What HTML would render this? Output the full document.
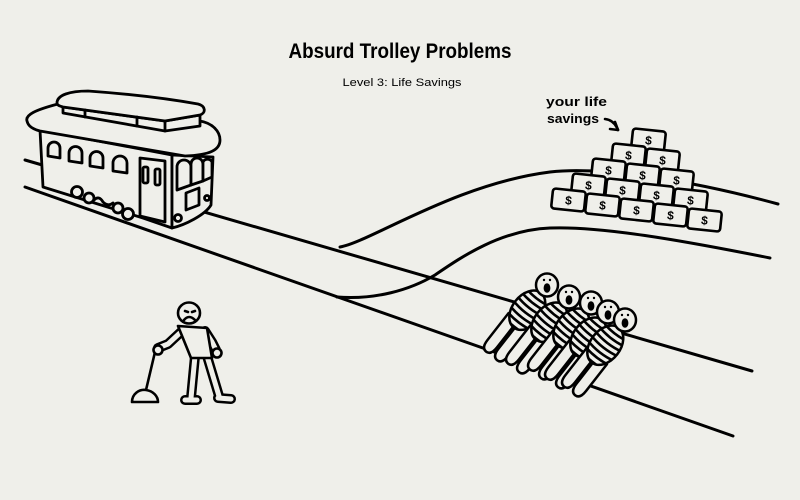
<!DOCTYPE html>
<html><head><meta charset="utf-8"><style>
html,body{margin:0;padding:0;background:#efefea;}
svg{display:block;}
</style></head><body>
<svg width="800" height="500" viewBox="0 0 800 500" xmlns="http://www.w3.org/2000/svg">
<defs>
<clipPath id="bc"><ellipse cx="0" cy="32" rx="15" ry="22"/></clipPath>
<g id="person">
  <g transform="rotate(38)">
    <path d="M-13,46 L-13,80 Q-13,90 -7,90 Q-1,90 -1,80 L-1,46 Z" fill="#efefea" stroke="#000" stroke-width="2.5" stroke-linejoin="round"/>
    <path d="M1,46 L1,80 Q1,90 7,90 Q13,90 13,80 L13,46 Z" fill="#efefea" stroke="#000" stroke-width="2.5" stroke-linejoin="round"/>
    <ellipse cx="0" cy="32" rx="15" ry="22" fill="#efefea" stroke="#000" stroke-width="2.5"/>
    <g clip-path="url(#bc)" stroke="#000" stroke-width="2.6" fill="none">
      <path d="M-17,15 Q0,19 17,15"/><path d="M-17,21 Q0,25 17,21"/><path d="M-17,27 Q0,31 17,27"/>
      <path d="M-17,33 Q0,37 17,33"/><path d="M-17,39 Q0,43 17,39"/><path d="M-17,45 Q0,49 17,45"/>
      <path d="M-17,51 Q0,55 17,51"/>
    </g>
  </g>
  <ellipse cx="0" cy="0" rx="11" ry="11.5" fill="#efefea" stroke="#000" stroke-width="2.5"/>
  <ellipse cx="0" cy="3" rx="3.4" ry="4.8" fill="#000"/>
  <circle cx="-3" cy="-5" r="1.2" fill="#000"/><circle cx="3" cy="-5" r="1.2" fill="#000"/>
</g>
</defs>

<!-- Title -->
<text x="400" y="58" text-anchor="middle" font-family="Liberation Sans, sans-serif" font-weight="bold" font-size="21" textLength="223" lengthAdjust="spacingAndGlyphs" fill="#000">Absurd Trolley Problems</text>
<text x="402" y="86" text-anchor="middle" font-family="Liberation Sans, sans-serif" font-size="11" textLength="119" lengthAdjust="spacingAndGlyphs" fill="#000">Level 3: Life Savings</text>

<!-- rails -->
<g stroke="#000" stroke-width="3" fill="none" stroke-linecap="round">
  <path d="M25,160 L752,371"/>
  <path d="M25,187 L733,436"/>
  <path d="M340,247 C370,242 455,184 550,172 C600,166 690,180 778,204"/>
  <path d="M337,297 C375,300 410,290 435,275 C460,258 500,230 550,228 C600,226 680,240 770,258"/>
</g>

<!-- Trolley -->
<g stroke="#000" stroke-width="2.8" fill="#efefea" stroke-linejoin="round" stroke-linecap="round">
  <path d="M40,130 L172,155 L172,228 L143,218 L43,187 Z"/>
  <path d="M172,155 L213,157 L211,205 C205,215 185,225 172,228 Z"/>
  <path d="M27,121 C25,115 35,110 58,104 L200,121 C212,123 220,131 220,140 C220,150 210,155 185,156 L40,131 C32,129 28,126 27,121 Z"/>
  <path d="M63,107 L165,121 L200,115 L200,126 L165,131 L63,113 Z"/>
  <path d="M57,103 C57,95 70,91 88,91 C130,94 170,99 198,104 C206,106 206,113 200,115 L165,121 L63,107 C59,106 57,105 57,103 Z"/>
  <path d="M85,110 L85,117 M137,117 L137,126 M165,121 L165,131" fill="none"/>
  <path d="M140,158 L165,161 L165,222 L140,216 Z"/>
  <rect x="143" y="167" width="5" height="16" rx="1.5"/>
  <rect x="155" y="169" width="5" height="16" rx="1.5"/>
  <path d="M48,156 L48,148 A6,6 0 0 1 60,148 L60,158 Z"/>
  <path d="M69,161 L69,153 A6.5,6.5 0 0 1 82,153 L82,163 Z"/>
  <path d="M90,166 L90,158 A6.5,6.5 0 0 1 103,158 L103,168 Z"/>
  <path d="M113,171 L113,163 A7,7 0 0 1 127,163 L127,173 Z"/>
  <path d="M177,190 L177,167 A7,7 0 0 1 191,167 L191,185 Z"/>
  <path d="M191,185 L191,164 A6,6 0 0 1 203,164 L203,181 Z"/>
  <path d="M203,181 L203,162 A5,5 0 0 1 212,162 L212,177 Z"/>
  <path d="M186,193 L199,188 L199,205 L186,210 Z"/>
  <circle cx="207" cy="198" r="2.5"/>
  <circle cx="178" cy="218" r="3.5"/>
  <circle cx="77" cy="192" r="5.5"/>
  <circle cx="89" cy="198" r="5"/>
  <path d="M94,200 Q99,195 103,202 Q108,207 113,203" fill="none"/>
  <circle cx="118" cy="208" r="5"/>
  <circle cx="128" cy="214" r="5.5"/>
</g>

<!-- Money pyramid -->
<g font-family="Liberation Sans, sans-serif" font-weight="bold" font-size="12" text-anchor="middle">
  <g transform="translate(632,130) rotate(6 16.5 10)"><rect width="33" height="20" rx="3" fill="#efefea" stroke="#000" stroke-width="2.6"/><text x="16.5" y="14.5">$</text></g>
  <g transform="translate(612,145) rotate(6 16.5 10)"><rect width="33" height="20" rx="3" fill="#efefea" stroke="#000" stroke-width="2.6"/><text x="16.5" y="14.5">$</text></g>
  <g transform="translate(646,150) rotate(6 16.5 10)"><rect width="33" height="20" rx="3" fill="#efefea" stroke="#000" stroke-width="2.6"/><text x="16.5" y="14.5">$</text></g>
  <g transform="translate(592,160) rotate(6 16.5 10)"><rect width="33" height="20" rx="3" fill="#efefea" stroke="#000" stroke-width="2.6"/><text x="16.5" y="14.5">$</text></g>
  <g transform="translate(626,165) rotate(6 16.5 10)"><rect width="33" height="20" rx="3" fill="#efefea" stroke="#000" stroke-width="2.6"/><text x="16.5" y="14.5">$</text></g>
  <g transform="translate(660,170) rotate(6 16.5 10)"><rect width="33" height="20" rx="3" fill="#efefea" stroke="#000" stroke-width="2.6"/><text x="16.5" y="14.5">$</text></g>
  <g transform="translate(572,175) rotate(6 16.5 10)"><rect width="33" height="20" rx="3" fill="#efefea" stroke="#000" stroke-width="2.6"/><text x="16.5" y="14.5">$</text></g>
  <g transform="translate(606,180) rotate(6 16.5 10)"><rect width="33" height="20" rx="3" fill="#efefea" stroke="#000" stroke-width="2.6"/><text x="16.5" y="14.5">$</text></g>
  <g transform="translate(640,185) rotate(6 16.5 10)"><rect width="33" height="20" rx="3" fill="#efefea" stroke="#000" stroke-width="2.6"/><text x="16.5" y="14.5">$</text></g>
  <g transform="translate(674,190) rotate(6 16.5 10)"><rect width="33" height="20" rx="3" fill="#efefea" stroke="#000" stroke-width="2.6"/><text x="16.5" y="14.5">$</text></g>
  <g transform="translate(552,190) rotate(6 16.5 10)"><rect width="33" height="20" rx="3" fill="#efefea" stroke="#000" stroke-width="2.6"/><text x="16.5" y="14.5">$</text></g>
  <g transform="translate(586,195) rotate(6 16.5 10)"><rect width="33" height="20" rx="3" fill="#efefea" stroke="#000" stroke-width="2.6"/><text x="16.5" y="14.5">$</text></g>
  <g transform="translate(620,200) rotate(6 16.5 10)"><rect width="33" height="20" rx="3" fill="#efefea" stroke="#000" stroke-width="2.6"/><text x="16.5" y="14.5">$</text></g>
  <g transform="translate(654,205) rotate(6 16.5 10)"><rect width="33" height="20" rx="3" fill="#efefea" stroke="#000" stroke-width="2.6"/><text x="16.5" y="14.5">$</text></g>
  <g transform="translate(688,210) rotate(6 16.5 10)"><rect width="33" height="20" rx="3" fill="#efefea" stroke="#000" stroke-width="2.6"/><text x="16.5" y="14.5">$</text></g>
</g>

<!-- label -->
<g font-family="Liberation Sans, sans-serif" font-weight="bold" font-size="12.5" fill="#000">
  <text x="546" y="106" textLength="61" lengthAdjust="spacingAndGlyphs">your life</text>
  <text x="547" y="123" textLength="52" lengthAdjust="spacingAndGlyphs">savings</text>
</g>
<g stroke="#000" stroke-width="2.6" fill="none" stroke-linecap="round" stroke-linejoin="round">
  <path d="M605,119 Q614,120 618,130"/>
  <path d="M615,122 L618,130 L610,129"/>
</g>

<!-- people on track -->
<use href="#person" transform="translate(547,285)"/>
<use href="#person" transform="translate(569,297)"/>
<use href="#person" transform="translate(591,303)"/>
<use href="#person" transform="translate(608,312)"/>
<use href="#person" transform="translate(625,320)"/>

<!-- standing person -->
<g stroke-linecap="round" stroke-linejoin="round" fill="none">
  <g stroke="#000" stroke-width="10">
    <path d="M182,331 L168,344 L158,348"/>
    <path d="M205,331 L212,342 L216,350"/>
    <path d="M195,356 L191,398"/>
    <path d="M207,356 L219,396"/>
    <path d="M185,400 L197,400"/>
    <path d="M218,398 L231,399"/>
  </g>
  <g stroke="#efefea" stroke-width="5">
    <path d="M182,331 L168,344 L158,348"/>
    <path d="M205,331 L212,342 L216,350"/>
    <path d="M195,356 L191,398"/>
    <path d="M207,356 L219,396"/>
    <path d="M185,400 L197,400"/>
    <path d="M218,398 L231,399"/>
  </g>
</g>
<g stroke="#000" stroke-width="2.6" fill="#efefea" stroke-linejoin="round" stroke-linecap="round">
  <path d="M178,326 L207,328 L212,358 L191,358 Z"/>
  <path d="M155,352 L146,390" fill="none"/>
  <path d="M132,402 C132,394 139,389 146,390 C153,391 158,396 158,402 Z"/>
  <circle cx="158" cy="350" r="4.5"/>
  <circle cx="217" cy="353" r="4.5"/>
  <ellipse cx="189" cy="313" rx="11" ry="10.5"/>
  <path d="M184,320 Q189,314 195,320" fill="none"/>
  <path d="M185,311 L188,312 M192,312 L195,311" fill="none"/>
</g>
</svg>
</body></html>
